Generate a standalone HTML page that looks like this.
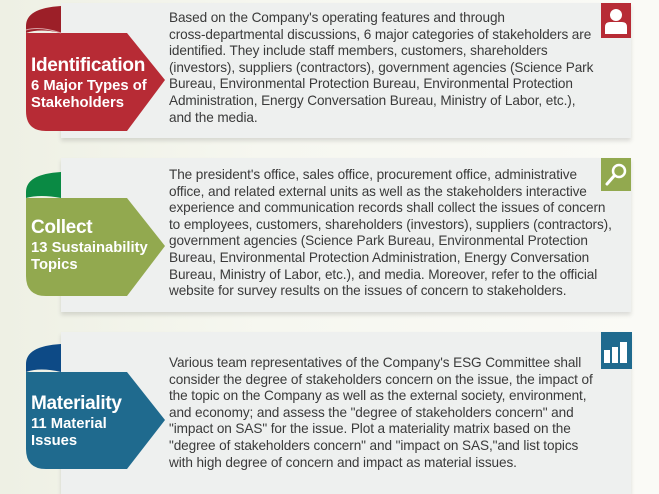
<!DOCTYPE html>
<html><head><meta charset="utf-8"><style>
*{margin:0;padding:0;box-sizing:border-box}
body{width:659px;height:494px;overflow:hidden;background:linear-gradient(90deg,#eef0e4 0%,#f6f7f0 40%,#fafaf6 100%);font-family:"Liberation Sans",sans-serif;position:relative}
.p{position:absolute;left:61px;width:570px;background:#eef0ef;box-shadow:0 3px 4px rgba(0,0,0,0.12)}
.t{position:absolute;left:169px;font-size:13.6px;line-height:16.6px;color:#3a3a3a;white-space:nowrap;letter-spacing:-0.1px}
.h{position:absolute;left:31px;color:#fff;font-weight:bold;white-space:nowrap}
.h b{display:block;font-size:19px;line-height:24px;letter-spacing:-0.3px}
.h span{display:block;font-size:14.8px;line-height:17px}
.ic{position:absolute;left:601px;width:30px;height:34px}
svg{position:absolute;left:0;top:0}
</style></head><body>
<div class="p" style="top:3px;height:135px"></div>
<div class="p" style="top:158px;height:154px"></div>
<div class="p" style="top:332px;height:162px"></div>
<svg width="659" height="494">
 <path d="M61 6 Q26 8 26 26 L26 33 Q40 28 61 33Z" fill="#9c1f28"/>
 <path d="M26 33 L127 33 L165 80 L127 131 L46 131 Q26 131 26 111Z" fill="#b72b35"/>
 <path d="M26 30 Q40 26 61 33" stroke="#d8a0a4" stroke-width="1" fill="none"/>
 <path d="M61 172 Q26 174 26 192 L26 198 Q40 194 61 198Z" fill="#0a8a44"/>
 <path d="M26 198 L127 198 L165 246 L127 296 L46 296 Q26 296 26 276Z" fill="#92a94f"/>
 <path d="M61 344 Q26 346 26 364 L26 372 Q40 367 61 372Z" fill="#0d4a86"/>
 <path d="M26 372 L127 372 L165 420 L127 469 L46 469 Q26 469 26 449Z" fill="#1f6a8e"/>
 <rect x="601" y="3" width="30" height="35" fill="#b72b35"/>
 <circle cx="616" cy="15" r="6" fill="#fff"/>
 <path d="M605 34 L605 27 Q605 22 610 22 L622 22 Q627 22 627 27 L627 34Z" fill="#fff"/>
 <rect x="601" y="158" width="30" height="33" fill="#92a94f"/>
 <circle cx="619" cy="171" r="6" fill="none" stroke="#fff" stroke-width="2.5"/>
 <line x1="614" y1="176" x2="607" y2="184" stroke="#fff" stroke-width="3" stroke-linecap="round"/>
 <rect x="601" y="332" width="31" height="37" fill="#1f6a8e"/>
 <rect x="604" y="350" width="6" height="13" fill="#fff"/>
 <rect x="612" y="347" width="6" height="16" fill="#fff"/>
 <rect x="620" y="342" width="7" height="21" fill="#fff"/>
</svg>
<div class="h" style="top:54px"><b>Identification</b><span>6 Major Types of<br>Stakeholders</span></div>
<div class="h" style="top:216px"><b>Collect</b><span>13 Sustainability<br>Topics</span></div>
<div class="h" style="top:392px"><b>Materiality</b><span>11 Material<br>Issues</span></div>
<div class="t" style="top:10px">Based on the Company's operating features and through<br>cross-departmental discussions, 6 major categories of stakeholders are<br>identified. They include staff members, customers, shareholders<br>(investors), suppliers (contractors), government agencies (Science Park<br>Bureau, Environmental Protection Bureau, Environmental Protection<br>Administration, Energy Conversation Bureau, Ministry of Labor, etc.),<br>and the media.</div>
<div class="t" style="top:167px">The president's office, sales office, procurement office, administrative<br>office, and related external units as well as the stakeholders interactive<br>experience and communication records shall collect the issues of concern<br>to employees, customers, shareholders (investors), suppliers (contractors),<br>government agencies (Science Park Bureau, Environmental Protection<br>Bureau, Environmental Protection Administration, Energy Conversation<br>Bureau, Ministry of Labor, etc.), and media. Moreover, refer to the official<br>website for survey results on the issues of concern to stakeholders.</div>
<div class="t" style="top:355px">Various team representatives of the Company's ESG Committee shall<br>consider the degree of stakeholders concern on the issue, the impact of<br>the topic on the Company as well as the external society, environment,<br>and economy; and assess the "degree of stakeholders concern" and<br>"impact on SAS" for the issue. Plot a materiality matrix based on the<br>"degree of stakeholders concern" and "impact on SAS,"and list topics<br>with high degree of concern and impact as material issues.</div>
</body></html>
